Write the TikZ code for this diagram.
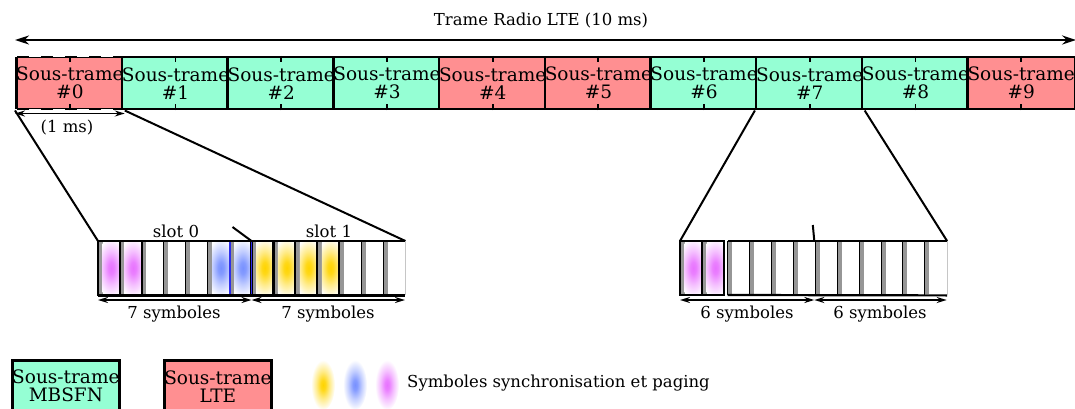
\documentclass[tikz,border=0pt]{standalone}
\usepackage{fontspec}
\setmainfont{DejaVu Serif}
\usetikzlibrary{arrows.meta}
\definecolor{sfgreen}{RGB}{149,255,212}
\definecolor{sfred}{RGB}{255,143,145}
\definecolor{cpgrey}{RGB}{150,150,150}
\definecolor{syncyellow}{RGB}{255,212,0}
\definecolor{syncblue}{RGB}{120,145,255}
\definecolor{syncpink}{RGB}{232,115,255}
\definecolor{slotblue}{RGB}{45,45,235}
\pgfdeclareradialshading{blobsyncyellow}{\pgfpoint{0bp}{0bp}}{color(0bp)=(syncyellow); color(5bp)=(syncyellow!90!white); color(14bp)=(syncyellow!45!white); color(25bp)=(white); color(50bp)=(white)}
\pgfdeclareradialshading{blobsyncblue}{\pgfpoint{0bp}{0bp}}{color(0bp)=(syncblue); color(5bp)=(syncblue!90!white); color(14bp)=(syncblue!45!white); color(25bp)=(white); color(50bp)=(white)}
\pgfdeclareradialshading{blobsyncpink}{\pgfpoint{0bp}{0bp}}{color(0bp)=(syncpink); color(5bp)=(syncpink!90!white); color(14bp)=(syncpink!45!white); color(25bp)=(white); color(50bp)=(white)}
\newcommand\syncblob[3]{% #1 symbol left x, #2 symbol width, #3 colour
  \begin{scope}
    \clip (#1+4.5,242) rectangle (#1+#2,294);
    \shade[shading=blob#3] (#1+4.5+#2/2-2.25,268) ellipse [x radius=15pt, y radius=30pt];
  \end{scope}}
\begin{document}
\begin{tikzpicture}[x=1pt,y=-1pt,
  sf/.style={draw, line width=2.5pt, minimum width=105.7pt, minimum height=52pt, anchor=north west, inner sep=0pt, align=center, font=\fontsize{18.5}{18}\selectfont},
  lbl/.style={font=\fontsize{16.5}{18}\selectfont, inner sep=0pt},
  conn/.style={line width=2pt},
  dimarrow/.style={line width=1.8pt, {Stealth[length=10pt,width=6pt]}-{Stealth[length=10pt,width=6pt]}},
  bigarrow/.style={line width=2.2pt, {Stealth[length=14pt,width=9pt]}-{Stealth[length=14pt,width=9pt]}},
  thickbox/.style={line width=2.2pt}]
\useasboundingbox (0,0) rectangle (1075,409);

% ---- subframes
\foreach \i/\c in {0/sfred,1/sfgreen,2/sfgreen,3/sfgreen,4/sfred,5/sfred,6/sfgreen,7/sfgreen,8/sfgreen,9/sfred}{
  \node[sf, fill=\c] (sf\i) at ({15+\i*105.7},56) {Sous-trame\\\#\i};
}
\draw[white, line width=2.7pt, dash pattern=on 12pt off 12pt, dash phase=-14pt] (sf0.north west) -- (sf0.north east);
\draw[white, line width=2.7pt, dash pattern=on 12pt off 12pt, dash phase=-14pt] (sf0.south west) -- (sf0.south east);
\foreach \i in {0,...,9}{
  \draw[line width=1.8pt] (sf\i.north) -- ++(0,6);
  \draw[line width=1.8pt] (sf\i.south) -- ++(0,-6);
}

% ---- frame arrow
\draw[bigarrow] ([yshift=16pt]sf0.north west) -- ([yshift=16pt]sf9.north east);
\node[lbl] (trame) at (541,21) {Trame Radio LTE (10 ms)};

% ---- 1 ms
\draw[dimarrow] ([yshift=-3pt]sf0.south west) -- ([yshift=-3pt]sf0.south east);
\node[lbl] (onems) at (67,128) {(1 ms)};

% ---- detail areas
\node[inner sep=0pt, minimum width=307pt, minimum height=54pt, anchor=north west] (detA) at (98,241) {};
\node[inner sep=0pt, minimum width=266.7pt, minimum height=54pt, anchor=north west] (detB) at (680,241) {};
\draw[conn] (sf0.south west) -- (detA.north west);
\draw[conn] (sf0.south east) -- (detA.north east);
\draw[conn] (sf7.south west) -- (detB.north west);
\draw[conn] (sf7.south east) -- (detB.north east);

% ---- left detail: 14 symbols
\foreach \k in {0,...,13}{
  \pgfmathsetmacro\xx{98+\k*21.93}
  \fill[cpgrey] (\xx,242) rectangle (\xx+4.5,294);
}
\foreach \k/\c in {0/syncpink,1/syncpink,5/syncblue,6/syncblue,7/syncyellow,8/syncyellow,9/syncyellow,10/syncyellow}{
  \pgfmathsetmacro\xx{98+\k*21.93}
  \syncblob{\xx}{21.93}{\c}
}
\foreach \k in {0,...,13}{
  \pgfmathsetmacro\xx{98+\k*21.93}
  \draw[line width=1pt] (\xx,241) -- (\xx,295);
}
\foreach \k in {0,1,7,8,9,10}{
  \pgfmathsetmacro\xx{98+\k*21.93}
  \draw[thickbox] (\xx,241) rectangle (\xx+21.93,295);
}
\draw[slotblue, line width=1.8pt] (229.6,241.5) rectangle (251.5,294.5);
\draw[thickbox] (detA.north west) -- (detA.north east);
\draw[thickbox] (detA.south west) -- (detA.south east);
\draw[gray!45, line width=1pt] (detA.north east) -- (detA.south east);
\coordinate (bndA) at (251.5,241);
\draw[conn] (bndA) -- ++(-19,-14);
\node[lbl] (slot0) at (176,231) {slot 0};
\node[lbl] (slot1) at (329,231) {slot 1};

% ---- right detail: 12 symbols
\foreach \xx in {680,702}{
  \fill[cpgrey] (\xx,242) rectangle (\xx+4.5,294);
  \syncblob{\xx}{22}{syncpink}
  \draw[thickbox] (\xx,241) rectangle (\xx+22,295);
}
\foreach \k in {0,...,9}{
  \pgfmathsetmacro\xx{727.7+\k*21.9}
  \fill[cpgrey] (\xx,242) rectangle (\xx+4.5,294);
  \draw[line width=1pt] (\xx,241) -- (\xx,295);
}
\draw[thickbox] (727.7,241) -- (detB.north east);
\draw[thickbox] (727.7,295) -- (detB.south east);
\draw[gray!45, line width=1pt] (detB.north east) -- (detB.south east);
\coordinate (bndB) at (814.3,241);
\draw[conn] (bndB) -- ++(-1.5,-16);

% ---- symbol count arrows
\coordinate (a0) at (98,300);
\coordinate (a1) at (251.5,300);
\coordinate (a2) at (405,300);
\coordinate (b0) at (680,300);
\coordinate (b1) at (814.3,300);
\coordinate (b2) at (946.7,300);
\draw[dimarrow] (a0) -- (a1);
\draw[dimarrow] (a1) -- (a2);
\draw[dimarrow] (b0) -- (b1);
\draw[dimarrow] (b1) -- (b2);
\node[lbl] (s7a) at (174,314) {7 symboles};
\node[lbl] (s7b) at (328,314) {7 symboles};
\node[lbl] (s6a) at (747,314) {6 symboles};
\node[lbl] (s6b) at (880,314) {6 symboles};

% ---- legend
\node[draw, line width=2.5pt, fill=sfgreen, minimum width=105pt, minimum height=52pt, anchor=north west, inner sep=0pt, align=center, font=\fontsize{18.5}{18}\selectfont] (legG) at (11,359) {Sous-trame\\MBSFN};
\node[draw, line width=2.5pt, fill=sfred, minimum width=105pt, minimum height=52pt, anchor=north west, inner sep=0pt, align=center, font=\fontsize{18.5}{18}\selectfont] (legR) at (163,359) {Sous-trame\\LTE};
\shade[shading=blobsyncyellow] (323,385) ellipse [x radius=12pt, y radius=25pt];
\shade[shading=blobsyncblue] (355,385) ellipse [x radius=12pt, y radius=25pt];
\shade[shading=blobsyncpink] (387,385) ellipse [x radius=12pt, y radius=25pt];
\node[lbl, anchor=west] (legtxt) at (407,383) {Symboles synchronisation et paging};
\end{tikzpicture}
\end{document}
